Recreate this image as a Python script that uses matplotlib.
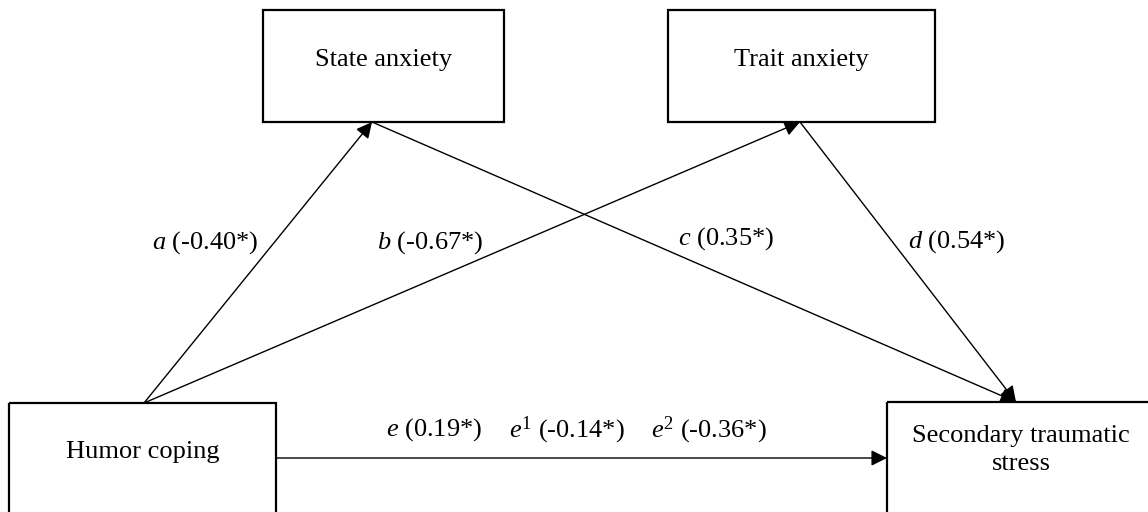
import matplotlib
matplotlib.use("Agg")
import matplotlib.pyplot as plt
from matplotlib.patches import Rectangle, FancyArrowPatch

plt.rcParams['font.family'] = ['Liberation Serif', 'DejaVu Serif']
plt.rcParams['mathtext.fontset'] = 'custom'
plt.rcParams['mathtext.rm'] = 'Liberation Serif'
plt.rcParams['mathtext.it'] = 'Liberation Serif:italic'

# Nodes of the path model
node_names = ["State anxiety", "Trait anxiety", "Humor coping", "Secondary traumatic\nstress"]
node_keys = ["state", "trait", "humor", "sts"]

# Paths: (from, to, letter, coefficient)
path_from = ["humor", "humor", "state", "trait"]
path_to = ["state", "trait", "sts", "sts"]
path_letters = ["a", "b", "c", "d"]
path_coefs = [-0.40, -0.67, 0.35, 0.54]

# Direct / total effects on the horizontal path
direct_letters = ["e", "e^{\\mathit{1}}", "e^{\\mathit{2}}"]
direct_coefs = [0.19, -0.14, -0.36]

FS = 19

W, H = 1148, 512
fig = plt.figure(figsize=(W / 100, H / 100), dpi=100)
ax = fig.add_axes([0, 0, 1, 1])
ax.set_xlim(0, W)
ax.set_ylim(H, 0)
ax.axis('off')

# box geometry (x0, y0, x1, y1) in pixel-like coordinates
boxes = {
    "state": (263, 10, 504, 122),
    "trait": (668, 10, 935, 122),
    "humor": (9, 403, 276, 530),
    "sts": (887, 402, 1155, 530),
}
text_pos = {
    "state": (384, 60),
    "trait": (801, 60),
    "humor": (143, 452),
    "sts": (1021, 450),
}
for key, name in zip(node_keys, node_names):
    x0, y0, x1, y1 = boxes[key]
    ax.add_patch(Rectangle((x0, y0), x1 - x0, y1 - y0, fill=False,
                           edgecolor='black', linewidth=1.6, clip_on=False))
    tx, ty = text_pos[key]
    ax.text(tx, ty, name, ha='center', va='center', fontsize=FS,
            linespacing=1.3)

# anchor points
anchors = {
    ("humor", "out_top"): (144, 403),
    ("state", "in"): (372, 122),
    ("trait", "in"): (800, 122),
    ("state", "out"): (372, 122),
    ("trait", "out"): (800, 122),
    ("sts", "in_top"): (1016, 402),
}

def arrow(p0, p1):
    ax.add_patch(FancyArrowPatch(p0, p1, arrowstyle='-|>', mutation_scale=24,
                                 linewidth=1.0, color='black',
                                 shrinkA=0, shrinkB=0))

for f, t in zip(path_from, path_to):
    p0 = anchors[(f, "out_top")] if f == "humor" else anchors[(f, "out")]
    p1 = anchors[(t, "in_top")] if t == "sts" else anchors[(t, "in")]
    arrow(p0, p1)

arrow((276, 458), (887, 458))

label_pos = [(205, 243), (430, 243), (726, 239), (957, 242)]
for (lx, ly), let, c in zip(label_pos, path_letters, path_coefs):
    ax.text(lx, ly, r"$\mathit{%s}$ (%.2f*)" % (let, c), ha='center', va='center',
            fontsize=FS)

direct_pos = [(434, 430), (567, 430), (709, 430)]
for (lx, ly), let, c in zip(direct_pos, direct_letters, direct_coefs):
    ax.text(lx, ly, r"$\mathit{%s}$ (%.2f*)" % (let, c), ha='center', va='center',
            fontsize=FS)

fig.savefig("out.png", dpi=100, facecolor='white')
